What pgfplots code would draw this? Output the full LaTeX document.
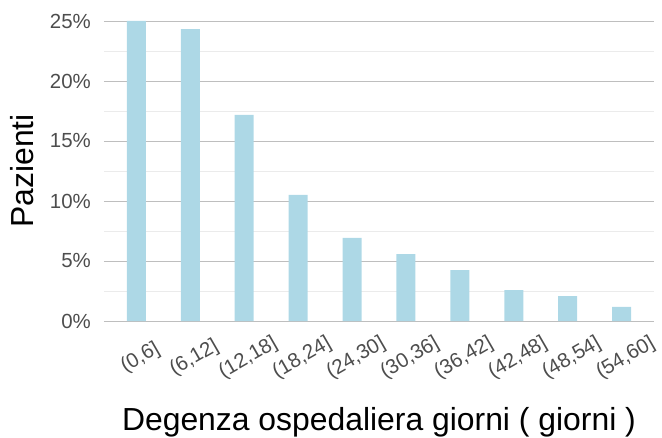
\documentclass[border=0pt]{standalone}
\usepackage{fontspec}
\setmainfont{Liberation Sans}
\usepackage{pgfplots}
\pgfplotsset{compat=1.18}
\definecolor{barblue}{HTML}{ADD8E6}
\definecolor{ticktext}{HTML}{4D4D4D}
\definecolor{gridmajor}{HTML}{BEBEBE}
\definecolor{gridminor}{HTML}{EBEBEB}

\begin{document}
\begin{tikzpicture}
\begin{axis}[
  scale only axis,
  width=550bp, height=330bp,
  xmin=0.4, xmax=10.6,
  ymin=-1.25, ymax=26.25,
  axis line style={draw=none},
  tick style={draw=none},
  xtick={1,...,10},
  xticklabels={{(0,6]},{(6,12]},{(12,18]},{(18,24]},{(24,30]},{(30,36]},{(36,42]},{(42,48]},{(48,54]},{(54,60]}},
  ytick={0,5,10,15,20,25},
  yticklabels={0\%,5\%,10\%,15\%,20\%,25\%},
  minor ytick={2.5,7.5,12.5,17.5,22.5},
  ymajorgrids, yminorgrids,
  major grid style={gridmajor, line width=0.9bp},
  minor grid style={gridminor, line width=0.9bp},
  ticklabel style={font=\fontsize{20.5}{24}\selectfont, text=ticktext},
  yticklabel style={anchor=east, inner sep=0pt, xshift=-13bp},
  xticklabel style={anchor=center, inner sep=0pt, yshift=-22bp, xshift=4bp, rotate=30},
  xlabel={Degenza ospedaliera giorni ( giorni )},
  ylabel={Pazienti},
  label style={font=\fontsize{32}{38}\selectfont},
  xlabel style={at={(axis description cs:0.5,0)}, anchor=base, yshift=-94bp, inner sep=0pt},
  ylabel style={at={(axis description cs:-0.149,0.5)}, anchor=center, inner sep=0pt},
]
\addplot[ybar, bar width=19bp, fill=barblue, draw=none] coordinates {
  (1,25.00) (2,24.33) (3,17.17) (4,10.50) (5,6.92)
  (6,5.58) (7,4.25) (8,2.58) (9,2.08) (10,1.17)
};
\end{axis}
\pgfresetboundingbox
\useasboundingbox ([xshift=-104bp,yshift=-102bp]current axis.south west) rectangle ([xshift=8bp,yshift=6bp]current axis.north east);
\end{tikzpicture}
\end{document}
